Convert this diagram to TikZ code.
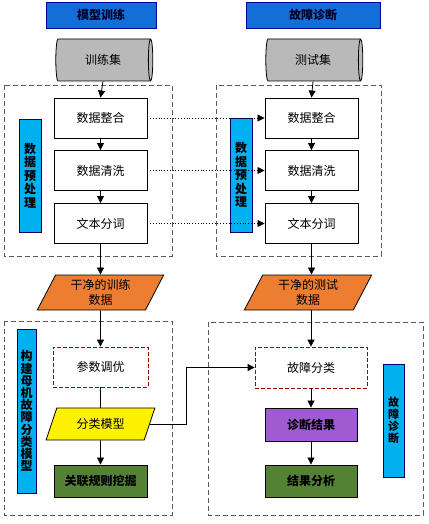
\documentclass[tikz,border=0pt]{standalone}
\usepackage{fontspec}
\setmainfont{Noto Sans CJK SC}
\usetikzlibrary{arrows.meta,shapes.geometric}
\definecolor{hdrblue}{RGB}{20,110,215}
\definecolor{lblcyan}{RGB}{0,176,240}
\definecolor{orng}{RGB}{237,125,49}
\definecolor{grn}{RGB}{84,130,53}
\definecolor{purp}{RGB}{160,90,210}
\definecolor{cylgray}{RGB}{185,185,185}
\tikzset{
  hdr/.style={draw=blue!60!black, fill=hdrblue, minimum height=26pt, font=\fontsize{12}{14}\selectfont\bfseries, text=black!85!blue},
  cyl/.style={cylinder, draw=black, line width=0.8pt, fill=cylgray, cylinder uses custom fill, cylinder body fill=cylgray, cylinder end fill=cylgray!80, aspect=0.4, minimum height=97pt, minimum width=42pt, font=\fontsize{12}{14}\selectfont, inner sep=0pt},
  wbox/.style={draw=black, line width=0.9pt, fill=white, minimum width=93pt, minimum height=40pt, font=\fontsize{12}{14}\selectfont},
  rdbox/.style={draw=red!60!black, dash pattern=on 4pt off 2pt, line width=0.8pt, fill=white, minimum height=40pt, font=\fontsize{12}{14}\selectfont},
  cbox/.style={draw=black, line width=0.9pt, minimum width=92pt, minimum height=32pt, font=\fontsize{12}{14}\selectfont\bfseries},
  para/.style={trapezium, trapezium left angle=#1, trapezium right angle=180-#1, trapezium stretches=true, draw=black, line width=0.8pt, inner sep=0pt, align=center},
  vlbl/.style={draw=blue!40!black, fill=lblcyan, align=center, inner sep=0pt},
  grp/.style={draw=black!65, dash pattern=on 5pt off 3pt, line width=0.8pt},
  arr/.style={-{Triangle[length=7pt,width=7pt]}, line width=0.8pt, black},
  darr/.style={-{Triangle[length=7pt,width=7pt]}, line width=0.8pt, black, dotted},
  ln/.style={line width=0.8pt, black}
}
\begin{document}
\begin{tikzpicture}[x=1pt,y=-1pt]
\useasboundingbox (0,0) rectangle (428,524);
% groups
\draw[grp] (4,85) rectangle (172,256);
\draw[grp] (216,85) rectangle (381,256);
\draw[grp] (4,321) rectangle (172,515);
\draw[grp] (208,322) rectangle (423,515);
% headers
\node[hdr, minimum width=110pt] (h1) at (101,15) {模型训练};
\node[hdr, minimum width=134pt] (h2) at (313,15) {故障诊断};
% cylinders
\node[cyl] (c1) at (103,60) {训练集};
\node[cyl] (c2) at (313,60) {测试集};
% vertical labels
\node[vlbl, minimum width=22pt, minimum height=113pt, font=\fontsize{12}{13.5}\selectfont\bfseries] (v1) at (30,175.5) {数\\据\\预\\处\\理};
\node[vlbl, minimum width=22pt, minimum height=114pt, font=\fontsize{12}{13.5}\selectfont\bfseries] (v2) at (241,175) {数\\据\\预\\处\\理};
\node[vlbl, minimum width=19pt, minimum height=164pt, font=\fontsize{12}{12.2}\selectfont\bfseries] (v3) at (26.5,411) {构\\建\\母\\机\\故\\障\\分\\类\\模\\型};
\node[vlbl, minimum width=21pt, minimum height=113pt, font=\fontsize{11}{12}\selectfont\bfseries] (v4) at (393.5,420.5) {故\\障\\诊\\断};
% preprocessing boxes
\node[wbox] (l1) at (100.5,118) {数据整合};
\node[wbox] (l2) at (100.5,170.5) {数据清洗};
\node[wbox] (l3) at (100.5,223.5) {文本分词};
\node[wbox] (r1) at (311.5,118) {数据整合};
\node[wbox] (r2) at (311.5,170.5) {数据清洗};
\node[wbox] (r3) at (311.5,223.5) {文本分词};
% clean data
\node[para=65, fill=orng, minimum width=127pt, minimum height=35pt, font=\fontsize{12}{15}\selectfont] (p1) at (100.5,292.5) {干净的训练\\数据};
\node[para=65, fill=orng, minimum width=128pt, minimum height=35pt, font=\fontsize{12}{15}\selectfont] (p2) at (308,292.5) {干净的测试\\数据};
% model building
\node[rdbox, minimum width=95pt] (m1) at (100.5,367) {参数调优};
\node[para=62, fill=yellow, minimum width=109pt, minimum height=32pt, font=\fontsize{12}{14}\selectfont] (m2) at (100.5,424) {分类模型};
\node[cbox, fill=grn, minimum width=93pt] (m3) at (100.5,481) {关联规则挖掘};
% diagnosis
\node[rdbox, minimum width=112pt, minimum height=41pt] (d1) at (311,367.5) {故障分类};
\node[cbox, fill=purp, minimum height=33pt] (d2) at (311,424.5) {诊断结果};
\node[cbox, fill=grn] (d3) at (311,481) {结果分析};
% connectors
\draw[arr] (c1.south) -- (l1.north);
\draw[arr] (l1) -- (l2);
\draw[arr] (l2) -- (l3);
\draw[arr] (l3) -- (p1);
\draw[arr] (c2.south) -- (r1.north);
\draw[arr] (r1) -- (r2);
\draw[arr] (r2) -- (r3);
\draw[arr] (r3) -- (r3.south |- p2.north);
\draw[darr] (l1) -- (r1);
\draw[darr] (l2) -- (r2);
\draw[darr] (l3) -- (r3);
\draw[arr] (p1) -- (m1);
\draw[ln] (m1) -- (m2);
\draw[arr] (m2) -- (m3);
\draw[arr] (p2.south -| d1.north) -- (d1.north);
\draw[arr] (m2.east) -- ++(36,0) |- (d1.west);
\draw[arr] (d1) -- (d2);
\draw[arr] (d2) -- (d3);
\end{tikzpicture}
\end{document}
